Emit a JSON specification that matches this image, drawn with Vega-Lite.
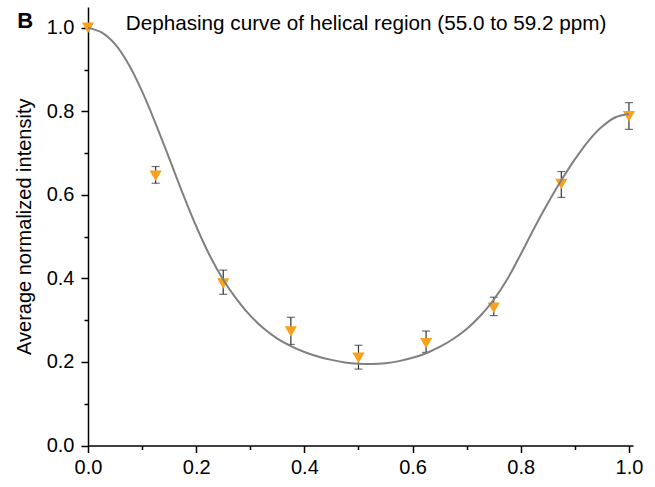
{
  "$schema": "https://vega.github.io/schema/vega-lite/v6.json",
  "width": 545,
  "height": 438.5,
  "autosize": "none",
  "padding": {"left": 88, "top": 7, "right": 22, "bottom": 41.5},
  "background": "white",
  "config": {"view": {"stroke": null}, "font": "Liberation Sans"},
  "datasets": {
    "pts": [
      {"t": 0.0, "v": 1.0, "lo": null, "hi": null},
      {"t": 0.125, "v": 0.646, "lo": 0.628, "hi": 0.668},
      {"t": 0.25, "v": 0.388, "lo": 0.362, "hi": 0.42},
      {"t": 0.375, "v": 0.273, "lo": 0.242, "hi": 0.307},
      {"t": 0.5, "v": 0.21, "lo": 0.183, "hi": 0.24},
      {"t": 0.625, "v": 0.245, "lo": 0.223, "hi": 0.274},
      {"t": 0.75, "v": 0.33, "lo": 0.311, "hi": 0.355},
      {"t": 0.875, "v": 0.626, "lo": 0.594, "hi": 0.656},
      {"t": 1.0, "v": 0.788, "lo": 0.757, "hi": 0.821}
    ],
    "curve": [
      {"t": 0.0, "f": 1.0},
      {"t": 0.025, "f": 0.989},
      {"t": 0.05, "f": 0.961},
      {"t": 0.075, "f": 0.913},
      {"t": 0.1, "f": 0.848},
      {"t": 0.125, "f": 0.771},
      {"t": 0.15, "f": 0.688},
      {"t": 0.175, "f": 0.604},
      {"t": 0.2, "f": 0.525},
      {"t": 0.225, "f": 0.455},
      {"t": 0.25, "f": 0.397},
      {"t": 0.275, "f": 0.35},
      {"t": 0.3, "f": 0.311},
      {"t": 0.325, "f": 0.28},
      {"t": 0.35, "f": 0.256},
      {"t": 0.375, "f": 0.238},
      {"t": 0.4, "f": 0.224},
      {"t": 0.425, "f": 0.213},
      {"t": 0.45, "f": 0.205},
      {"t": 0.475, "f": 0.199},
      {"t": 0.5, "f": 0.196},
      {"t": 0.525, "f": 0.195},
      {"t": 0.55, "f": 0.197},
      {"t": 0.575, "f": 0.202},
      {"t": 0.6, "f": 0.21},
      {"t": 0.625, "f": 0.221},
      {"t": 0.65, "f": 0.236},
      {"t": 0.675, "f": 0.255},
      {"t": 0.7, "f": 0.279},
      {"t": 0.725, "f": 0.31},
      {"t": 0.75, "f": 0.349},
      {"t": 0.775, "f": 0.398},
      {"t": 0.8, "f": 0.458},
      {"t": 0.825, "f": 0.521},
      {"t": 0.85, "f": 0.58},
      {"t": 0.875, "f": 0.635},
      {"t": 0.9, "f": 0.685},
      {"t": 0.925, "f": 0.729},
      {"t": 0.95, "f": 0.763},
      {"t": 0.975, "f": 0.786},
      {"t": 1.0, "f": 0.794}
    ],
    "tag": [{"label": "B"}],
    "heading": [{"label": "Dephasing curve of helical region (55.0 to 59.2 ppm)"}]
  },
  "encoding": {
    "x": {
      "type": "quantitative",
      "scale": {"domain": [0, 1.0075], "nice": false, "zero": false},
      "axis": {
        "title": null, "grid": false,
        "values": [0, 0.1, 0.2, 0.3, 0.4, 0.5, 0.6, 0.7, 0.8, 0.9, 1.0],
        "labelExpr": "round(datum.value*10) % 2 == 0 ? format(datum.value, '.1f') : ''",
        "tickSize": {"condition": {"test": "round(datum.value*10) % 2 == 0", "value": 7}, "value": 4},
        "tickColor": "black", "tickWidth": 1.5,
        "domainColor": "black", "domainWidth": 1.5,
        "labelFontSize": 20, "labelColor": "black", "labelFont": "Liberation Sans",
        "labelPadding": 5, "labelOverlap": false, "labelFlush": false
      }
    },
    "y": {
      "type": "quantitative",
      "scale": {"domain": [0, 1.05], "nice": false, "zero": false},
      "axis": {
        "title": "Average normalized intensity", "grid": false,
        "values": [0, 0.1, 0.2, 0.3, 0.4, 0.5, 0.6, 0.7, 0.8, 0.9, 1.0],
        "labelExpr": "round(datum.value*10) % 2 == 0 ? format(datum.value, '.1f') : ''",
        "tickSize": {"condition": {"test": "round(datum.value*10) % 2 == 0", "value": 7}, "value": 4},
        "tickColor": "black", "tickWidth": 1.5,
        "domainColor": "black", "domainWidth": 1.5,
        "labelFontSize": 20, "labelColor": "black", "labelFont": "Liberation Sans",
        "labelPadding": 7, "labelOverlap": false,
        "titleFontSize": 20, "titleFontWeight": "normal", "titleColor": "black",
        "titleFont": "Liberation Sans", "titlePadding": 12
      }
    }
  },
  "layer": [
    {
      "data": {"name": "pts"},
      "mark": {"type": "rule", "color": "#333333", "strokeWidth": 1.2},
      "encoding": {"x": {"field": "t"}, "y": {"field": "lo"}, "y2": {"field": "hi"}}
    },
    {
      "data": {"name": "pts"},
      "mark": {"type": "tick", "orient": "horizontal", "size": 8, "thickness": 1.2, "color": "#333333"},
      "encoding": {"x": {"field": "t"}, "y": {"field": "lo"}}
    },
    {
      "data": {"name": "pts"},
      "mark": {"type": "tick", "orient": "horizontal", "size": 8, "thickness": 1.2, "color": "#333333"},
      "encoding": {"x": {"field": "t"}, "y": {"field": "hi"}}
    },
    {
      "data": {"name": "pts"},
      "mark": {"type": "point", "shape": "triangle-down", "filled": true, "size": 150, "color": "#F9A11B", "opacity": 1, "strokeWidth": 0},
      "encoding": {"x": {"field": "t"}, "y": {"field": "v"}}
    },
    {
      "data": {"name": "curve"},
      "mark": {"type": "line", "color": "#808080", "strokeWidth": 2, "interpolate": "catmull-rom"},
      "encoding": {"x": {"field": "t"}, "y": {"field": "f"}}
    },
    {
      "data": {"name": "tag"},
      "mark": {"type": "text", "fontSize": 22, "fontWeight": "bold", "font": "Liberation Sans", "color": "black", "align": "left", "baseline": "alphabetic"},
      "encoding": {
        "x": {"datum": -0.131, "type": "quantitative"},
        "y": {"datum": 1.0, "type": "quantitative"},
        "text": {"field": "label"}
      }
    },
    {
      "data": {"name": "heading"},
      "mark": {"type": "text", "fontSize": 20.7, "font": "Liberation Sans", "color": "black", "align": "center", "baseline": "alphabetic"},
      "encoding": {
        "x": {"datum": 0.514, "type": "quantitative"},
        "y": {"datum": 0.995, "type": "quantitative"},
        "text": {"field": "label"}
      }
    }
  ]
}
